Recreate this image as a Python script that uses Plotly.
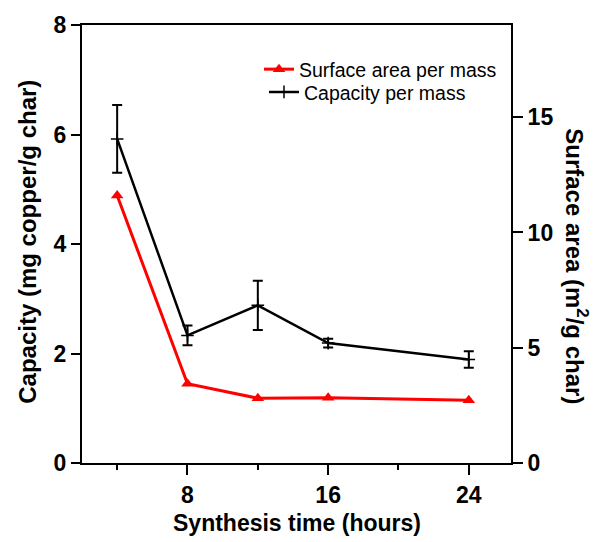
import plotly.graph_objects as go

hours = [4, 8, 12, 16, 24]
capacity = [5.92, 2.33, 2.88, 2.19, 1.89]
capacity_err = [0.62, 0.18, 0.45, 0.08, 0.15]
surface_area = [11.6, 3.44, 2.81, 2.83, 2.72]

FONT = "Liberation Sans, Arial, sans-serif"

fig = go.Figure()
fig.add_trace(go.Scatter(
    x=hours, y=surface_area, name="Surface area per mass", yaxis="y2",
    mode="lines+markers", legend="legend",
    line=dict(color="#ff0000", width=3),
    marker=dict(symbol="triangle-up", size=11, color="#ff0000"),
))
fig.add_trace(go.Scatter(
    x=hours, y=capacity, name="Capacity per mass",
    mode="lines+markers", legend="legend2",
    line=dict(color="black", width=2.5),
    marker=dict(symbol="cross-thin-open", size=9, color="black", line=dict(width=1.5, color="black")),
    error_y=dict(type="data", array=capacity_err, visible=True, color="black", thickness=2, width=5),
))

axis_common = dict(showline=True, linecolor="black", linewidth=2, ticks="outside",
                   tickcolor="black", tickwidth=2, showgrid=False, zeroline=False,
                   tickfont=dict(family=FONT, size=23, color="black", weight="bold"))

legend_common = dict(xanchor="left", yanchor="top", bgcolor="rgba(0,0,0,0)",
                     font=dict(family=FONT, size=19.5, color="black"), itemwidth=30)

fig.update_layout(
    width=599, height=542,
    margin=dict(l=82, r=88, t=22, b=79),
    plot_bgcolor="white", paper_bgcolor="white",
    showlegend=True,
    legend=dict(x=0.4126, y=0.943, **legend_common),
    legend2=dict(x=0.4242, y=0.891, **legend_common),
    xaxis=dict(range=[2, 26.4], tickvals=[8, 16, 24], ticklen=10, mirror=True,
               minor=dict(tickvals=[4, 12, 20], ticks="outside", ticklen=5, tickwidth=2, tickcolor="black"),
               **axis_common),
    yaxis=dict(range=[0, 8], tickvals=[0, 2, 4, 6, 8], ticklen=9, mirror=True, **axis_common),
    yaxis2=dict(range=[0, 19], tickvals=[0, 5, 10, 15], ticklen=10, overlaying="y", side="right",
                **axis_common),
    annotations=[
        dict(text="Capacity (mg copper/g char)", xref="paper", yref="paper", x=-0.126, y=0.505,
             textangle=-90, showarrow=False, xanchor="center", yanchor="middle",
             font=dict(family=FONT, size=24, color="black", weight="bold")),
        dict(text="Surface area (m<sup>2</sup>/g char)", xref="paper", yref="paper", x=1.153, y=0.45,
             textangle=90, showarrow=False, xanchor="center", yanchor="middle",
             font=dict(family=FONT, size=24, color="black", weight="bold")),
        dict(text="Synthesis time (hours)", xref="paper", yref="paper", x=0.5, y=-0.136,
             showarrow=False, xanchor="center", yanchor="middle",
             font=dict(family=FONT, size=23, color="black", weight="bold")),
    ],
)

fig.write_html("out.html")
